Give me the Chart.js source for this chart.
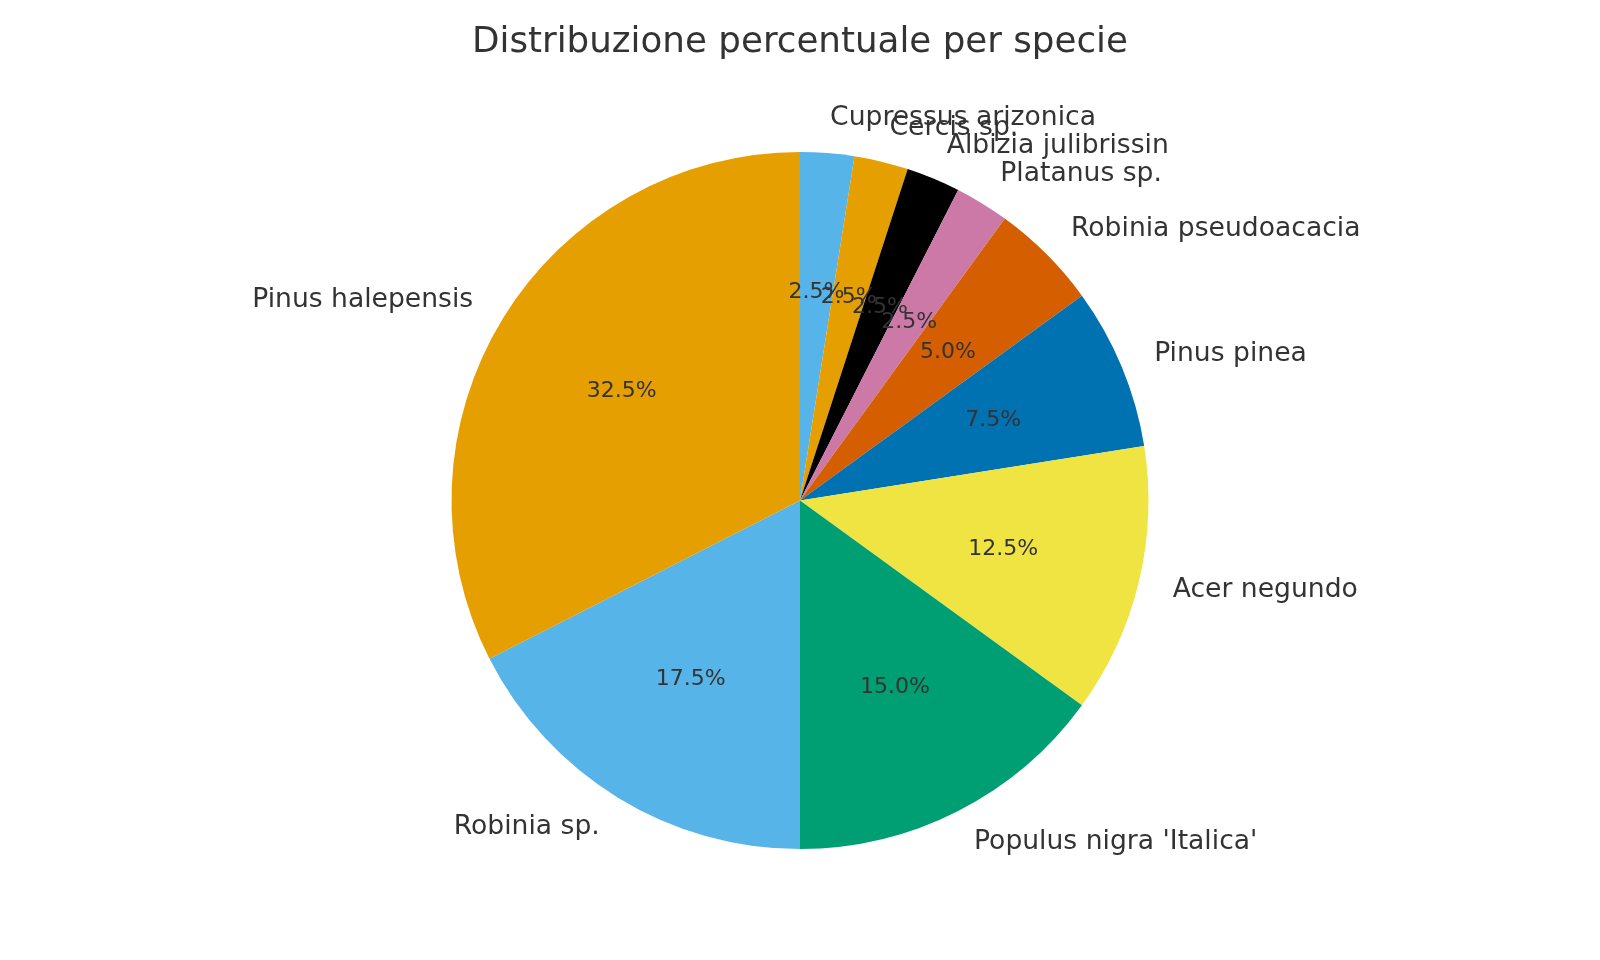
<!DOCTYPE html>
<html>
<head>
<meta charset="utf-8">
<script src="https://cdn.jsdelivr.net/npm/chart.js@4.4.0/dist/chart.umd.min.js"></script>
<style>
  html, body { margin: 0; padding: 0; background: #fff; }
  #wrap { width: 1600px; height: 960px; }
</style>
</head>
<body>
<div id="wrap"><canvas id="pieChart" width="1600" height="960"></canvas></div>
<script>
// species in clockwise order starting from the top
let species = [
    'Cupressus arizonica',
    'Cercis sp.',
    'Albizia julibrissin',
    'Platanus sp.',
    'Robinia pseudoacacia',
    'Pinus pinea',
    'Acer negundo',
    "Populus nigra 'Italica'",
    'Robinia sp.',
    'Pinus halepensis'
];
let percentages = [2.5, 2.5, 2.5, 2.5, 5.0, 7.5, 12.5, 15.0, 17.5, 32.5];
let sliceColors = ['#56B4E9', '#E69F00', '#000000', '#CC79A7', '#D55E00',
                   '#0072B2', '#F0E442', '#009E73', '#56B4E9', '#E69F00'];

const textColor = '#333333';
const fontFamily = "'DejaVu Sans', sans-serif";

// labels outside at 1.1 r, percentages inside at 0.6 r
const pieLabels = {
    id: 'pieLabels',
    afterDatasetsDraw(chart) {
        let c = chart.ctx;
        let meta = chart.getDatasetMeta(0);
        let data = chart.data.datasets[0].data;
        let total = data.reduce((a, b) => a + b, 0);
        c.save();
        c.fillStyle = textColor;
        c.textBaseline = 'middle';
        meta.data.forEach((arc, i) => {
            let p = arc.getProps(['x', 'y', 'startAngle', 'endAngle', 'outerRadius'], true);
            let mid = (p.startAngle + p.endAngle) / 2;
            let cos = Math.cos(mid), sin = Math.sin(mid);

            let px = p.x + cos * p.outerRadius * 0.6;
            let py = p.y + sin * p.outerRadius * 0.6;
            c.font = '22px ' + fontFamily;
            c.textAlign = 'center';
            c.fillText((data[i] / total * 100).toFixed(1) + '%', px, py);

            let lx = p.x + cos * p.outerRadius * 1.1;
            let ly = p.y + sin * p.outerRadius * 1.1;
            c.font = '26.6px ' + fontFamily;
            c.textAlign = lx < p.x ? 'right' : 'left';
            c.fillText(chart.data.labels[i], lx, ly);
        });
        c.restore();
    }
};

let ctx = document.getElementById('pieChart').getContext('2d');
let pieChart = new Chart(ctx, {
    type: 'pie',
    data: {
        labels: species,
        datasets: [{
            data: percentages,
            backgroundColor: sliceColors,
            borderWidth: 0
        }]
    },
    options: {
        responsive: false,
        animation: false,
        devicePixelRatio: 1,
        layout: {
            padding: { top: 21.5, bottom: 111, left: 0, right: 0 }
        },
        plugins: {
            legend: { display: false },
            tooltip: { enabled: false },
            title: {
                display: true,
                text: 'Distribuzione percentuale per specie',
                color: textColor,
                font: { family: fontFamily, size: 35.7, weight: 'normal' },
                padding: { top: 0, bottom: 87.7 }
            }
        }
    },
    plugins: [pieLabels]
});
</script>
</body>
</html>
